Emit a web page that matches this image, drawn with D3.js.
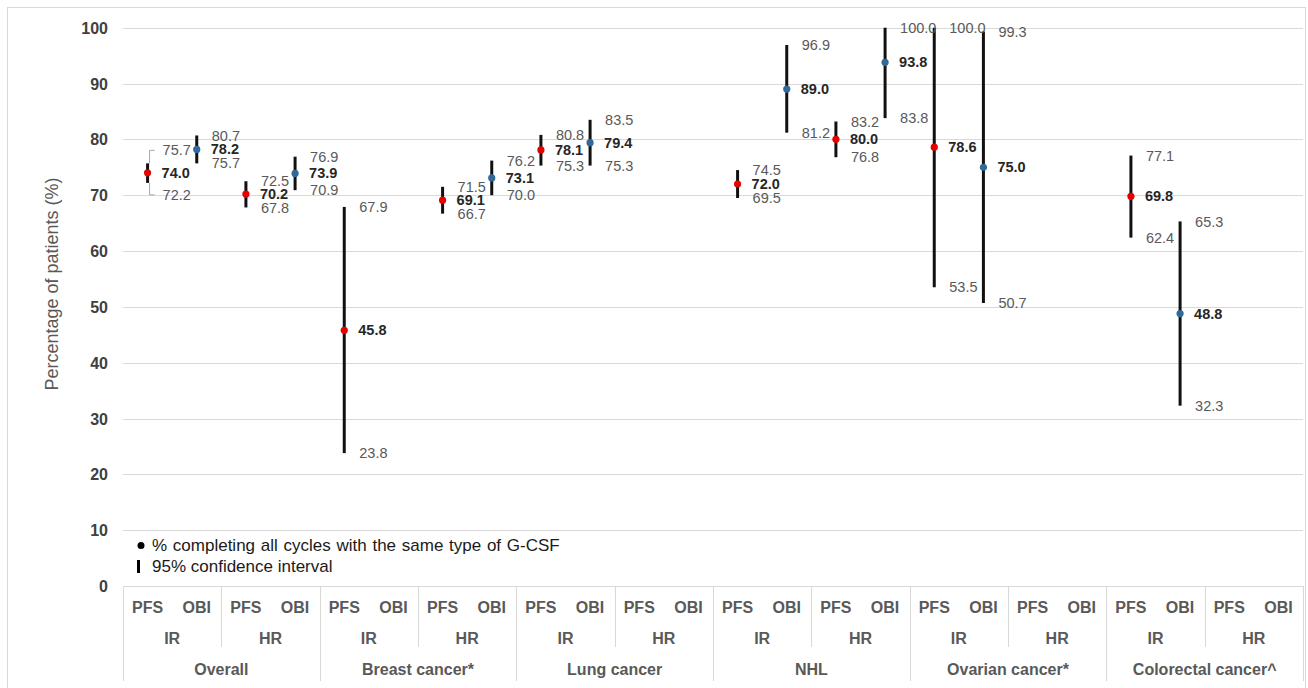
<!DOCTYPE html>
<html>
<head>
<meta charset="utf-8">
<script src="https://cdn.jsdelivr.net/npm/d3@7"></script>
<style>
  html, body { margin: 0; padding: 0; background: #fff; }
  svg { display: block; font-family: Arial, "Liberation Sans", sans-serif; }
</style>
</head>
<body>
<svg id="chart" width="1308" height="688"></svg>
<script>
// ---------------- data ----------------
const groups = ["Overall", "Breast cancer*", "Lung cancer", "NHL", "Ovarian cancer*", "Colorectal cancer^"];
const riskLevels = ["IR", "HR"];
const gcsfTypes = ["PFS", "OBI"];
// one value per slot: group x risk x G-CSF (24 slots), null = no data
const pctComplete = [74.0, 78.2, 70.2, 73.9, 45.8, null, 69.1, 73.1, 78.1, 79.4, null, null,
                     72.0, 89.0, 80.0, 93.8, 78.6, 75.0, null, null, 69.8, 48.8, null, null];
const ciLower     = [72.2, 75.7, 67.8, 70.9, 23.8, null, 66.7, 70.0, 75.3, 75.3, null, null,
                     69.5, 81.2, 76.8, 83.8, 53.5, 50.7, null, null, 62.4, 32.3, null, null];
const ciUpper     = [75.7, 80.7, 72.5, 76.9, 67.9, null, 71.5, 76.2, 80.8, 83.5, null, null,
                     74.5, 96.9, 83.2, 100.0, 100.0, 99.3, null, null, 77.1, 65.3, null, null];
const yTicks = [0, 10, 20, 30, 40, 50, 60, 70, 80, 90, 100];
const yTitle = "Percentage of patients (%)";
const legendItems = ["% completing all cycles with the same type of G-CSF", "95% confidence interval"];

// ---------------- layout (not data) ----------------
const labelNudge = { 0: { upper: -13, lower: 12 } }; // labels moved with leader lines
const W = 1308, H = 688;
const plotLeft = 123, plotRight = 1303, plotTop = 27.7, plotBottom = 586;
const colors = { PFS: "#e60000", OBI: "#33689b" };

const svg = d3.select("#chart");
svg.append("rect").attr("x", 0).attr("y", 0).attr("width", W).attr("height", H).attr("fill", "#fff");
svg.append("rect").attr("x", 7.5).attr("y", 7.5).attr("width", 1298).attr("height", 690)
  .attr("fill", "none").attr("stroke", "#d9d9d9").attr("stroke-width", 1);

const slots = [];
groups.forEach((g, gi) => riskLevels.forEach((r, ri) => gcsfTypes.forEach((t, ti) => {
  const i = slots.length;
  slots.push({ key: g + "|" + r + "|" + t, group: g, risk: r, type: t, i,
               v: pctComplete[i], lo: ciLower[i], hi: ciUpper[i] });
})));

const x = d3.scaleBand().domain(slots.map(d => d.key)).range([plotLeft, plotRight]).padding(0);
const y = d3.scaleLinear().domain([0, 100]).range([plotBottom, plotTop]);
const cx = d => x(d.key) + x.bandwidth() / 2;

// gridlines
svg.append("g").selectAll("line").data(yTicks).join("line")
  .attr("x1", plotLeft).attr("x2", plotRight)
  .attr("y1", d => Math.round(y(d)) + 0.5).attr("y2", d => Math.round(y(d)) + 0.5)
  .attr("stroke", "#d9d9d9").attr("stroke-width", 1);

// y axis labels
const yAxis = d3.axisLeft(y).tickValues(yTicks).tickSize(0).tickPadding(0).tickFormat(d3.format("d"));
const yg = svg.append("g").attr("transform", `translate(108,0)`).call(yAxis);
yg.select(".domain").remove();
yg.selectAll("text").attr("font-size", 16).attr("font-weight", "bold").attr("fill", "#404040")
  .attr("font-family", "Arial, 'Liberation Sans', sans-serif").attr("dy", "0.35em");

// y title
svg.append("text").attr("transform", "translate(58,284) rotate(-90)")
  .attr("text-anchor", "middle").attr("font-size", 18).attr("fill", "#595959").text(yTitle);

// category axis (multi-level)
const catG = svg.append("g");
const bw = x.bandwidth();
const subW = bw * 2, grpW = bw * 4;
for (let k = 0; k <= groups.length * 2; k++) {
  const xx = Math.round(plotLeft + k * subW) + 0.5;
  const isGroup = k % 2 === 0;
  catG.append("line").attr("x1", xx).attr("x2", xx).attr("y1", plotBottom)
    .attr("y2", isGroup ? 681 : 647).attr("stroke", "#d9d9d9");
}
catG.selectAll("text.type").data(slots).join("text").attr("class", "type")
  .attr("x", d => cx(d)).attr("y", 613).attr("text-anchor", "middle")
  .attr("font-size", 16).attr("font-weight", "bold").attr("fill", "#595959").text(d => d.type);
const subs = [];
groups.forEach((g, gi) => riskLevels.forEach((r, ri) => subs.push({ g, r, k: gi * 2 + ri })));
catG.selectAll("text.risk").data(subs).join("text").attr("class", "risk")
  .attr("x", d => plotLeft + (d.k + 0.5) * subW).attr("y", 644).attr("text-anchor", "middle")
  .attr("font-size", 16).attr("font-weight", "bold").attr("fill", "#595959").text(d => d.r);
catG.selectAll("text.grp").data(groups).join("text").attr("class", "grp")
  .attr("x", (d, i) => plotLeft + (i + 0.5) * grpW).attr("y", 675).attr("text-anchor", "middle")
  .attr("font-size", 16).attr("font-weight", "bold").attr("fill", "#595959").text(d => d);

const pts = slots.filter(d => d.v != null);

// CI bars
svg.append("g").selectAll("line").data(pts).join("line")
  .attr("x1", d => cx(d)).attr("x2", d => cx(d))
  .attr("y1", d => y(d.lo)).attr("y2", d => y(d.hi))
  .attr("stroke", "#111").attr("stroke-width", 3);

// dots
svg.append("g").selectAll("circle").data(pts).join("circle")
  .attr("cx", d => cx(d)).attr("cy", d => y(d.v)).attr("r", 3.6)
  .attr("fill", d => colors[d.type]);

// leader lines
pts.filter(d => labelNudge[d.i]).forEach(d => {
  const n = labelNudge[d.i];
  const xx = cx(d) + 2, ly1 = y(d.hi) + n.upper, ly2 = y(d.lo) + n.lower;
  svg.append("path").attr("d", `M${xx},${y(d.hi)}V${ly1}H${xx + 5}M${xx},${y(d.lo)}V${ly2}H${xx + 5}`)
    .attr("fill", "none").attr("stroke", "#a6a6a6").attr("stroke-width", 1);
});

// labels
const lab = svg.append("g").attr("font-size", 14.5);
pts.forEach(d => {
  const n = labelNudge[d.i] || { upper: 0, lower: 0 };
  const lx = cx(d) + 14;
  lab.append("text").attr("x", lx).attr("y", y(d.v)).attr("dy", "0.35em")
    .attr("font-weight", "bold").attr("fill", "#262626").text(d3.format(".1f")(d.v));
  lab.append("text").attr("x", lx + 1).attr("y", y(d.hi) + n.upper).attr("dy", "0.35em")
    .attr("fill", "#595959").text(d3.format(".1f")(d.hi));
  lab.append("text").attr("x", lx + 1).attr("y", y(d.lo) + n.lower).attr("dy", "0.35em")
    .attr("fill", "#595959").text(d3.format(".1f")(d.lo));
});

// legend
const lg = svg.append("g");
lg.append("circle").attr("cx", 141).attr("cy", 545.5).attr("r", 3.5).attr("fill", "#000");
lg.append("text").attr("x", 152).attr("y", 545.5).attr("dy", "0.35em").attr("font-size", 17)
  .attr("word-spacing", 1).attr("fill", "#1a1a1a").text(legendItems[0]);
lg.append("rect").attr("x", 137).attr("y", 560).attr("width", 3).attr("height", 13).attr("fill", "#000");
lg.append("text").attr("x", 152).attr("y", 566).attr("dy", "0.35em").attr("font-size", 17)
  .attr("fill", "#1a1a1a").text(legendItems[1]);
</script>
</body>
</html>
